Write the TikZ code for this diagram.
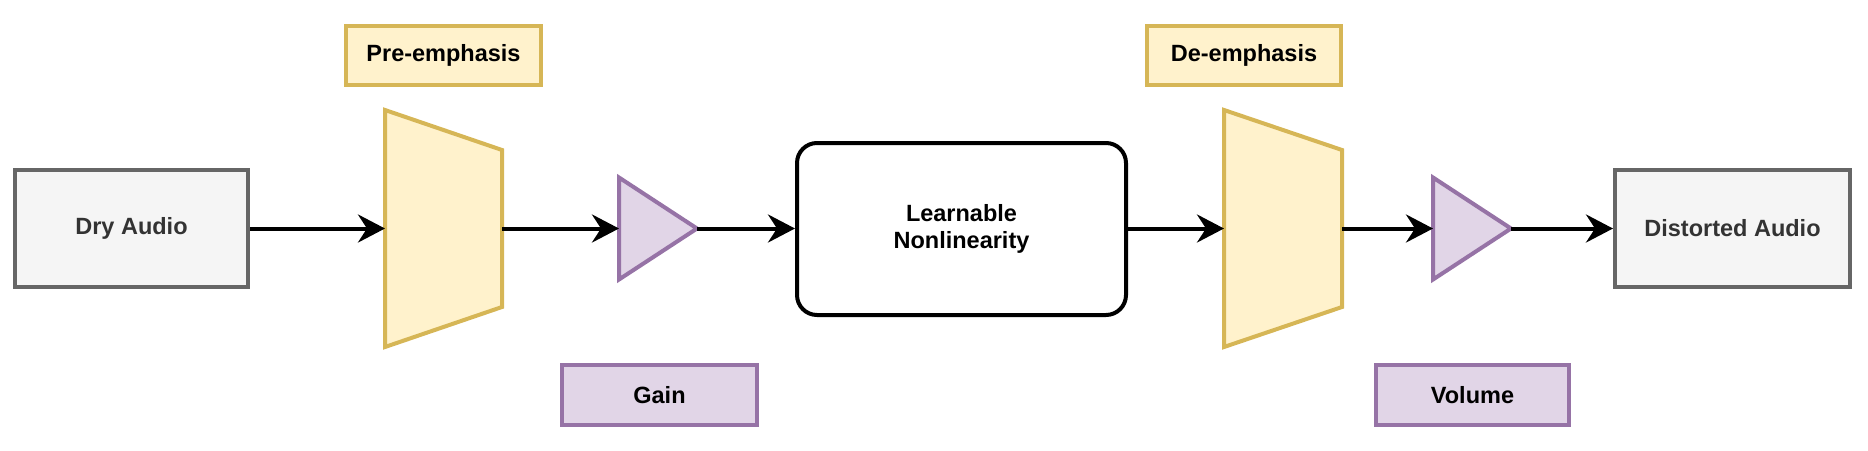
\documentclass[tikz,border=0pt]{standalone}
\usepackage{fontspec}
\setmainfont{Liberation Sans}
\usetikzlibrary{arrows.meta,calc}
\definecolor{yelF}{HTML}{FFF2CC}
\definecolor{yelD}{HTML}{D6B656}
\definecolor{purF}{HTML}{E1D5E7}
\definecolor{purD}{HTML}{9673A6}
\definecolor{grF}{HTML}{F5F5F5}
\definecolor{grD}{HTML}{666666}
\definecolor{grT}{HTML}{333333}
\begin{document}
\begin{tikzpicture}[x=1pt,y=-1pt,
  every node/.style={font=\fontsize{23.5}{27}\selectfont\bfseries, align=center, inner sep=0pt, line width=4pt},
  io/.style={draw=grD, fill=grF, text=grT, minimum width=233pt, minimum height=117pt},
  yellab/.style={draw=yelD, fill=yelF, minimum width=195pt, minimum height=59pt},
  purlab/.style={draw=purD, fill=purF, minimum width=194pt, minimum height=60pt},
  frame/.style={minimum width=113pt, minimum height=233pt},
  tframe/.style={minimum width=74pt, minimum height=98pt},
  flow/.style={line width=4pt, -{Stealth[length=27pt,width=28pt,inset=9pt]}},
  yelshape/.style={draw=yelD, fill=yelF, line width=4pt, line join=miter},
  purshape/.style={draw=purD, fill=purF, line width=4pt, line join=miter}
]
\useasboundingbox (0,0) rectangle (1868,450);

% main blocks
\node[io] (dry) at (131.5,228.5) {\raisebox{2pt}{Dry Audio}};
\node[io, minimum width=235pt] (dist) at (1732.5,228.5) {\raisebox{2pt}{Distorted Audio}};
\node[draw=black, fill=white, rounded corners=20pt, minimum width=329pt, minimum height=172pt] (nl) at (961.5,229) {Learnable\\Nonlinearity};

% labels
\node[yellab] (prelab) at (443.5,55.5) {Pre-emphasis};
\node[yellab, minimum width=194pt] (delab) at (1244,55.5) {De-emphasis};
\node[purlab, minimum width=195pt] (gainlab) at (659.5,395) {Gain};
\node[purlab, minimum width=193pt] (vollab) at (1472.5,395) {Volume};

% filter trapezoids
\node[frame] (pre) at (443.5,228.5) {};
\draw[yelshape] (pre.north west) -- ($(pre.north east)+(0,40)$) -- ($(pre.south east)+(0,-40)$) -- (pre.south west) -- cycle;
\node[frame, minimum width=114pt] (de) at (1283,228.5) {};
\draw[yelshape] (de.north west) -- ($(de.north east)+(0,40)$) -- ($(de.south east)+(0,-40)$) -- (de.south west) -- cycle;

% gain triangles
\node[tframe] (gain) at (658,228.5) {};
\draw[purshape] (gain.north west) -- (gain.east) -- (gain.south west) -- cycle;
\node[tframe] (vol) at (1472,228.5) {};
\draw[purshape] (vol.north west) -- (vol.east) -- (vol.south west) -- cycle;

% connectors
\draw[flow] (dry.east) -- (pre.west);
\draw[flow] (pre.east) -- (gain.west);
\draw[flow] (gain.east) -- (nl.west |- gain.east);
\draw[flow] (nl.east |- de.west) -- (de.west);
\draw[flow] (de.east) -- (vol.west);
\draw[flow] (vol.east) -- (dist.west);
\end{tikzpicture}
\end{document}
